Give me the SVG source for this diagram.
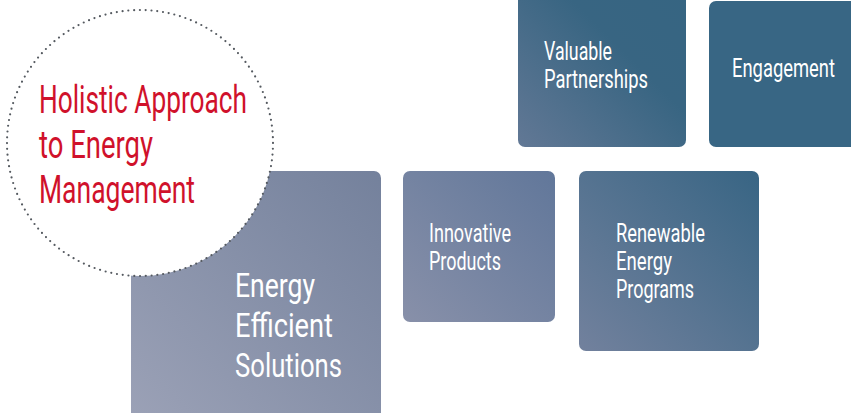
<svg xmlns="http://www.w3.org/2000/svg" width="851" height="413" viewBox="0 0 851 413">
  <defs>
    <!-- each tile fades from a pale lavender-grey (bottom-left) to a deeper blue (top-right) -->
    <linearGradient id="gEES" x1="0" y1="1" x2="1" y2="0">
      <stop offset="0" stop-color="#9ca2b7"/>
      <stop offset="1" stop-color="#74819c"/>
    </linearGradient>
    <linearGradient id="gInno" x1="0" y1="1" x2="1" y2="0">
      <stop offset="0" stop-color="#8890a9"/>
      <stop offset="1" stop-color="#61779a"/>
    </linearGradient>
    <linearGradient id="gRenew" x1="0" y1="1" x2="1" y2="0">
      <stop offset="0" stop-color="#72819d"/>
      <stop offset="1" stop-color="#386584"/>
    </linearGradient>
    <linearGradient id="gValue" x1="0" y1="1" x2="1" y2="0">
      <stop offset="0" stop-color="#627895"/>
      <stop offset="0.6" stop-color="#386582"/>
      <stop offset="1" stop-color="#366582"/>
    </linearGradient>
    <style>
      .label { font-family: Roboto, "Liberation Sans", sans-serif; fill: #ffffff; }
      .title { font-family: Roboto, "Liberation Sans", sans-serif; fill: #d0112b; font-size: 38px; }
      .ring { fill: #ffffff; stroke: #555a60; stroke-width: 2.2; stroke-linecap: round; stroke-dasharray: 0 5.8; }
    </style>
  </defs>

  <g id="connectors"/>

  <g id="energy-efficient-solutions">
    <rect x="131" y="171" width="250" height="260" rx="7" fill="url(#gEES)"/>
    <text class="label" font-size="34">
      <tspan x="235" y="297" textLength="80" lengthAdjust="spacingAndGlyphs">Energy</tspan>
      <tspan x="235" y="337" textLength="98" lengthAdjust="spacingAndGlyphs">Efficient</tspan>
      <tspan x="235" y="377" textLength="107" lengthAdjust="spacingAndGlyphs">Solutions</tspan>
    </text>
  </g>

  <g id="innovative-products">
    <rect x="403" y="171" width="152" height="151" rx="7" fill="url(#gInno)"/>
    <text class="label" font-size="25">
      <tspan x="429" y="242" textLength="82" lengthAdjust="spacingAndGlyphs">Innovative</tspan>
      <tspan x="429" y="270" textLength="72" lengthAdjust="spacingAndGlyphs">Products</tspan>
    </text>
  </g>

  <g id="renewable-energy-programs">
    <rect x="579" y="171" width="180" height="180" rx="7" fill="url(#gRenew)"/>
    <text class="label" font-size="25">
      <tspan x="616" y="242" textLength="89" lengthAdjust="spacingAndGlyphs">Renewable</tspan>
      <tspan x="616" y="270" textLength="56" lengthAdjust="spacingAndGlyphs">Energy</tspan>
      <tspan x="616" y="298" textLength="78" lengthAdjust="spacingAndGlyphs">Programs</tspan>
    </text>
  </g>

  <g id="valuable-partnerships">
    <rect x="518" y="-20" width="168" height="167" rx="7" fill="url(#gValue)"/>
    <text class="label" font-size="25">
      <tspan x="544" y="60" textLength="68" lengthAdjust="spacingAndGlyphs">Valuable</tspan>
      <tspan x="544" y="88" textLength="104" lengthAdjust="spacingAndGlyphs">Partnerships</tspan>
    </text>
  </g>

  <g id="engagement">
    <rect x="709" y="1" width="160" height="146" rx="7" fill="#386684"/>
    <text class="label" font-size="26" x="732" y="77" textLength="103" lengthAdjust="spacingAndGlyphs">Engagement</text>
  </g>

  <g id="holistic-approach">
    <circle class="ring" cx="140" cy="143" r="133"/>
    <text class="title">
      <tspan x="39" y="113" textLength="208" lengthAdjust="spacingAndGlyphs">Holistic Approach</tspan>
      <tspan x="39" y="158" textLength="114" lengthAdjust="spacingAndGlyphs">to Energy</tspan>
      <tspan x="39" y="203" textLength="156" lengthAdjust="spacingAndGlyphs">Management</tspan>
    </text>
  </g>
</svg>
